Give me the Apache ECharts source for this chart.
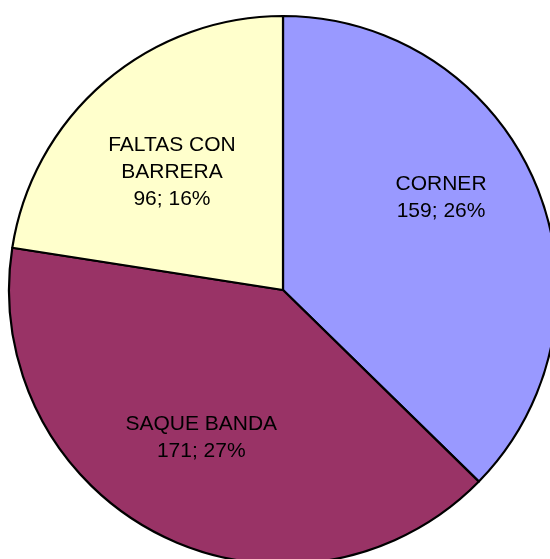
<!DOCTYPE html>
<html>
<head>
<meta charset="utf-8">
<script src="https://cdn.jsdelivr.net/npm/echarts@6/dist/echarts.min.js"></script>
<style>
html,body{margin:0;padding:0;background:#fff;}
#c{width:550px;height:559px;}
</style>
</head>
<body>
<div id="c"></div>
<script>
var categories = ['CORNER', 'SAQUE BANDA', 'FALTAS CON BARRERA'];
var values = [159, 171, 96];
var percents = ['26%', '27%', '16%'];
var colors = ['#9999FF', '#993366', '#FFFFCC'];
var labelOffsets = [[29, -38], [-19, 23], [-20, -11]];

var chart = echarts.init(document.getElementById('c'), null, {renderer: 'canvas'});
var data = categories.map(function (c, i) {
  return {
    name: c,
    value: values[i],
    itemStyle: {color: colors[i]},
    label: {offset: labelOffsets[i]}
  };
});
chart.setOption({
  backgroundColor: '#ffffff',
  animation: false,
  series: [{
    type: 'pie',
    center: [283, 290],
    radius: [0, 274],
    startAngle: 90,
    clockwise: true,
    avoidLabelOverlap: false,
    itemStyle: {borderColor: '#000000', borderWidth: 2.2},
    label: {
      show: true,
      position: 'inner',
      color: '#000000',
      fontFamily: 'Liberation Sans, Arial, sans-serif',
      fontSize: 21,
      lineHeight: 27,
      align: 'center',
      formatter: function (p) {
        return p.name.replace('CON ', 'CON\n') + '\n' + p.value + '; ' + percents[p.dataIndex];
      }
    },
    labelLine: {show: false},
    emphasis: {disabled: true},
    data: data
  }]
});
</script>
</body>
</html>
